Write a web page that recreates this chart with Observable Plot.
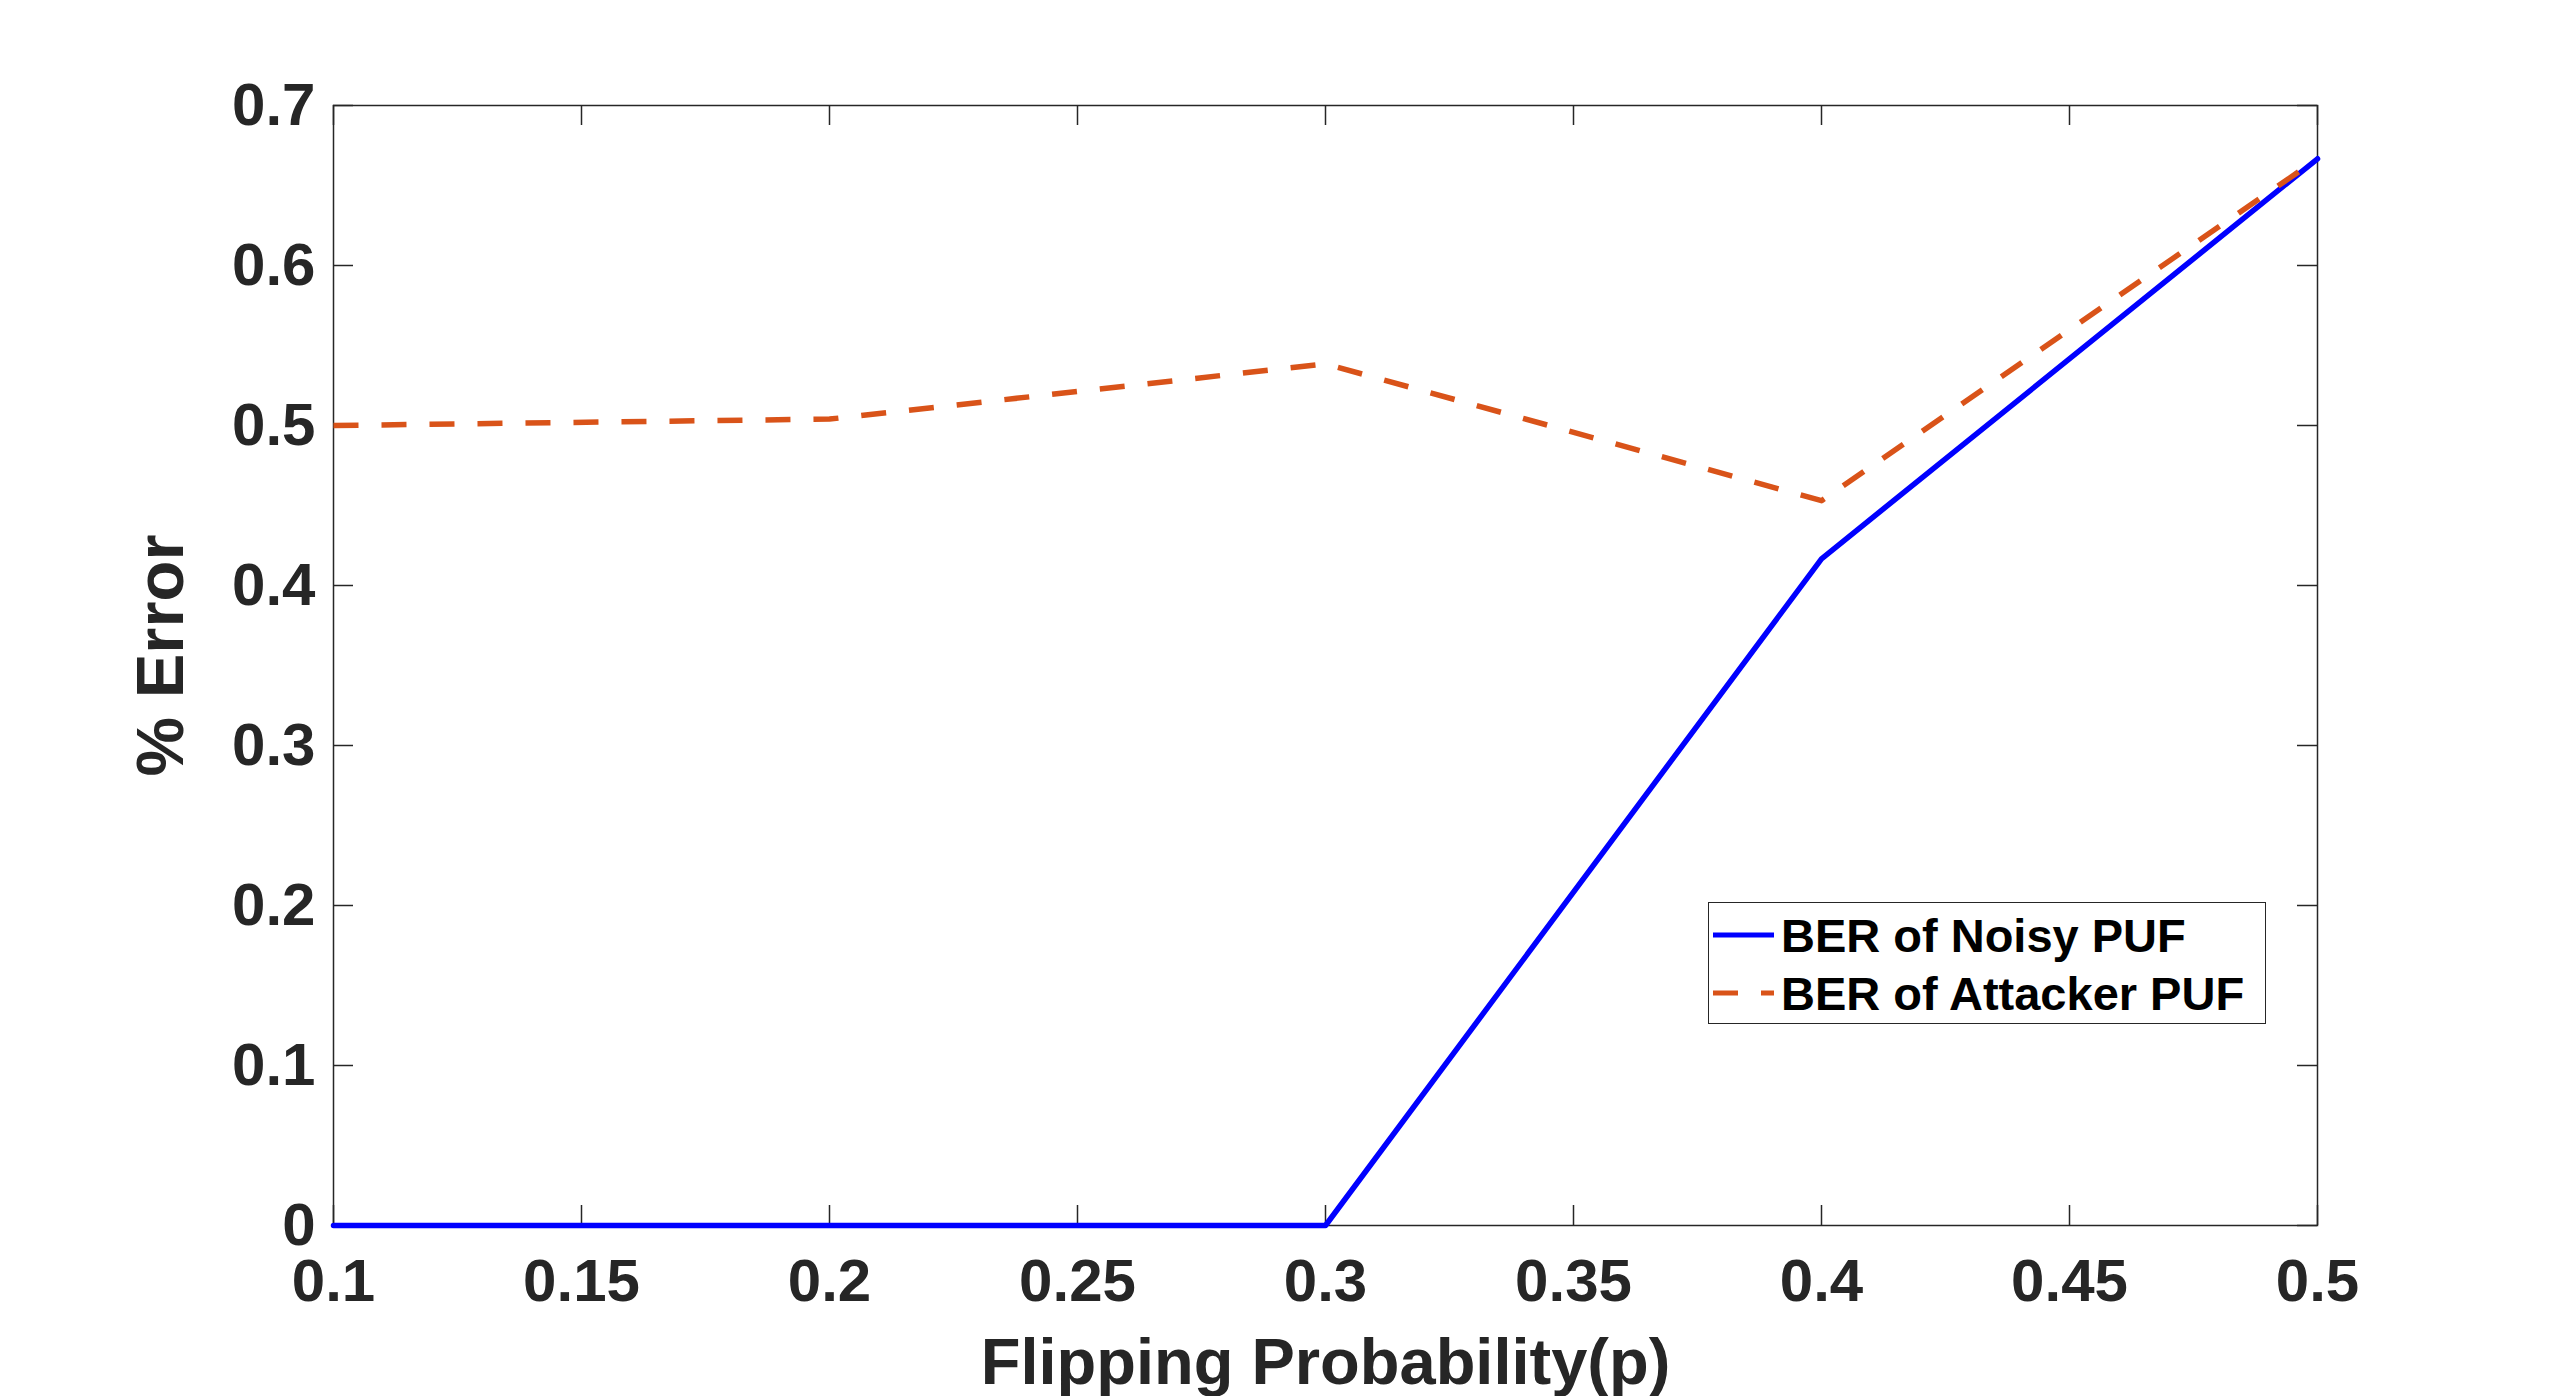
<!DOCTYPE html>
<html>
<head>
<meta charset="utf-8">
<script src="https://cdn.jsdelivr.net/npm/d3@7"></script>
<script src="https://cdn.jsdelivr.net/npm/@observablehq/plot@0.6"></script>
<style>
  html, body { margin: 0; padding: 0; background: #fff; }
  #wrap { position: relative; width: 2560px; height: 1396px; font-family: "Liberation Sans", Arial, sans-serif; }
  #legend {
    position: absolute; left: 1708px; top: 902px; width: 558px; height: 122px;
    border: 1.5px solid #262626; background: #fff; box-sizing: border-box;
  }
  .row { position: absolute; left: 0; height: 58px; display: flex; align-items: center; }
  .row svg { margin-left: 4px; }
  .row span { margin-left: 6px; font-size: 47px; font-weight: bold; color: #000; line-height: 1; }
</style>
</head>
<body>
<div id="wrap"></div>
<script>
// ---- data ----
const pValues = [0.1, 0.2, 0.3, 0.4, 0.5];
const noisyBER = [0, 0, 0, 0.4167, 0.6667];
const attackerBER = [0.5, 0.504, 0.5385, 0.453, 0.6667];
const seriesNames = ["BER of Noisy PUF", "BER of Attacker PUF"];
const xTicks = [0.1, 0.15, 0.2, 0.25, 0.3, 0.35, 0.4, 0.45, 0.5];
const yTicks = [0, 0.1, 0.2, 0.3, 0.4, 0.5, 0.6, 0.7];
const xTitle = "Flipping Probability(p)";
const yTitle = "% Error";

const colors = ["#0000ff", "#d95319"];
const dash = "25 23";

const W = 2560, H = 1396;
const mL = 333, mR = 243, mT = 105, mB = 171;
const frameW = W - mL - mR, frameH = H - mT - mB;
const tickLen = 20;

const rows = [];
pValues.forEach((p, i) => {
  rows.push({p, v: noisyBER[i], s: seriesNames[0]});
  rows.push({p, v: attackerBER[i], s: seriesNames[1]});
});

const textStyle = {fontSize: 60, fontWeight: "bold", fill: "#262626"};
const tickStyle = {stroke: "#262626", strokeWidth: 1.5};

const chart = Plot.plot({
  width: W,
  height: H,
  marginLeft: mL,
  marginRight: mR,
  marginTop: mT,
  marginBottom: mB,
  style: {fontFamily: "Liberation Sans, Arial, sans-serif", background: "#fff"},
  x: {domain: [0.1, 0.5]},
  y: {domain: [0, 0.7]},
  marks: [
    Plot.frame({stroke: "#262626", strokeWidth: 1.5}),
    // inward ticks on all four sides
    Plot.tickX(xTicks, {x: d => d, insetTop: frameH - tickLen, ...tickStyle}),
    Plot.tickX(xTicks, {x: d => d, insetBottom: frameH - tickLen, ...tickStyle}),
    Plot.tickY(yTicks, {y: d => d, insetRight: frameW - tickLen, ...tickStyle}),
    Plot.tickY(yTicks, {y: d => d, insetLeft: frameW - tickLen, ...tickStyle}),
    Plot.axisX(xTicks, {anchor: "bottom", tickSize: 0, tickPadding: 33, tickFormat: d => String(d), label: null, ...textStyle}),
    Plot.axisY(yTicks, {anchor: "left", tickSize: 0, tickPadding: 18, tickFormat: d => String(d), label: null, ...textStyle}),
    Plot.line(rows.filter(d => d.s === seriesNames[0]), {x: "p", y: "v", stroke: colors[0], strokeWidth: 5.5, strokeLinejoin: "round"}),
    Plot.line(rows.filter(d => d.s === seriesNames[1]), {x: "p", y: "v", stroke: colors[1], strokeWidth: 5.5, strokeDasharray: dash, strokeLinecap: "butt", strokeLinejoin: "round"}),
    Plot.text([xTitle], {text: d => d, frameAnchor: "bottom", textAnchor: "middle", lineAnchor: "bottom", dy: 158, fontSize: 65, fontWeight: "bold", fill: "#262626"}),
    Plot.text([yTitle], {text: d => d, frameAnchor: "left", textAnchor: "middle", lineAnchor: "bottom", rotate: -90, dx: -151, dy: -10, fontSize: 67, fontWeight: "bold", fill: "#262626"})
  ]
});

const wrap = document.getElementById("wrap");
wrap.appendChild(chart);

// legend (HTML overlay inside the axes)
const legend = document.createElement("div");
legend.id = "legend";
seriesNames.forEach((name, i) => {
  const row = document.createElement("div");
  row.className = "row";
  row.style.top = (i === 0 ? 3 : 61) + "px";
  const svg = d3.create("svg").attr("width", 62).attr("height", 12);
  svg.append("line").attr("x1", 0).attr("x2", 61).attr("y1", 6).attr("y2", 6)
    .attr("stroke", colors[i]).attr("stroke-width", 5)
    .attr("stroke-dasharray", i === 1 ? dash : null);
  row.appendChild(svg.node());
  const label = document.createElement("span");
  label.textContent = name;
  row.appendChild(label);
  legend.appendChild(row);
});
wrap.appendChild(legend);
</script>
</body>
</html>
